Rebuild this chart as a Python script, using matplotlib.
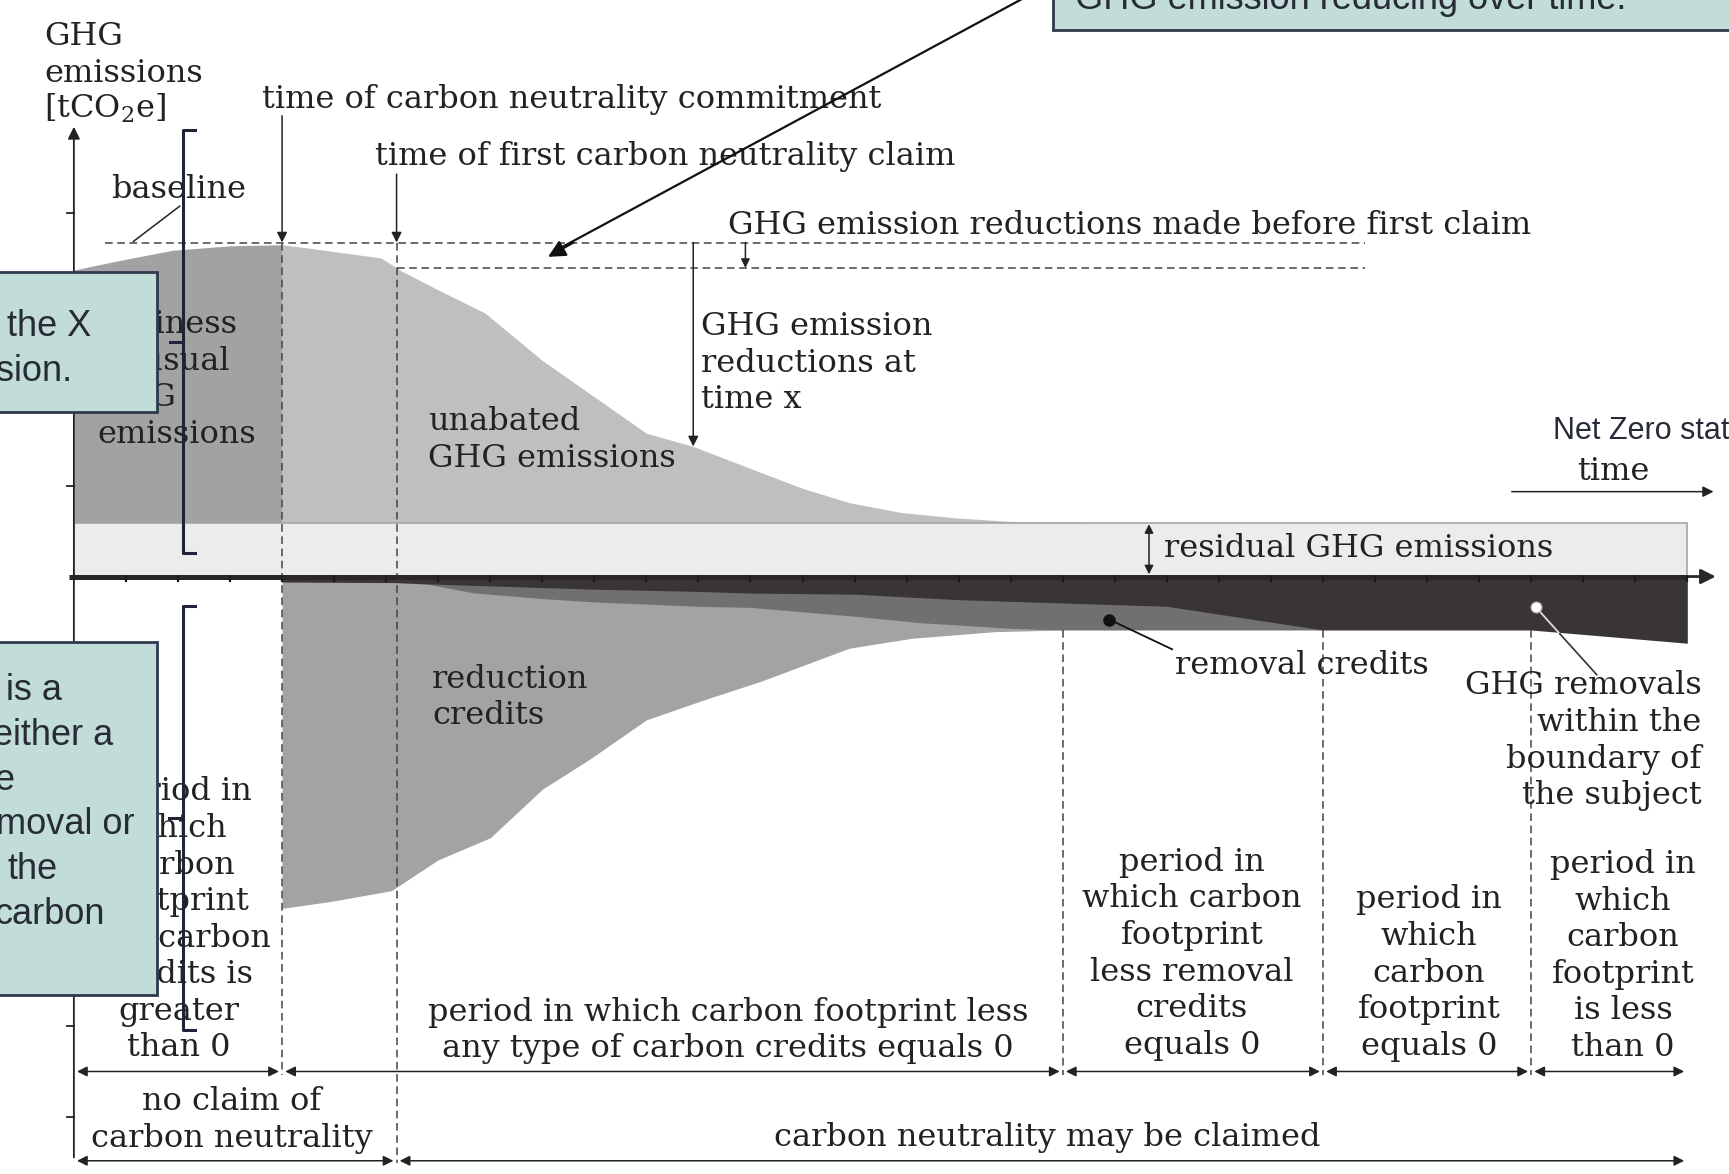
import numpy as np
import matplotlib.pyplot as plt
from matplotlib.patches import Rectangle

plt.rcParams['mathtext.fontset'] = 'dejavuserif'

# time in tick steps, emissions in relative units (0 = time axis)
tick_times = np.arange(1, 32)
t_commit = 4.0
t_claim = 6.2
period_bounds = [0, 4, 19, 24, 28, 31]
claim_bounds = [0, 6.2, 31]
baseline_level = 30.3
claim_level = 28.0
residual_level = 4.9
t_end = 31

bau_t = [0, 0.8, 1.9, 3.0, 4.0]
bau_e = [27.8, 28.6, 29.6, 30.0, 30.1]

unabated_t = [4.0, 4.5, 5.9, 6.2, 6.3, 7.0, 7.9, 9.0, 10.0, 11.0, 11.9, 13.0, 14.0, 14.9, 15.9, 17.0, 18.0, 19.5]
unabated_e = [30.1, 29.8, 28.9, 28.0, 27.7, 26.0, 23.9, 19.6, 16.3, 13.0, 11.8, 9.8, 8.0, 6.7, 5.8, 5.3, 5.0, 4.9]

reduction_t = [4.0, 4.9, 6.1, 7.0, 8.0, 9.0, 9.9, 11.0, 12.1, 13.2, 14.9, 16.1, 17.7, 19.0]
reduction_e = [-30.1, -29.5, -28.5, -25.7, -23.7, -19.3, -16.6, -13.0, -11.2, -9.5, -6.5, -5.6, -5.0, -4.85]

removal_cr_t = [6.2, 6.8, 7.7, 8.0, 9.0, 10.0, 12.0, 13.0, 15.0, 16.3, 17.0, 18.0, 19.0, 24.0]
removal_cr_e = [-0.55, -0.7, -1.5, -1.6, -2.0, -2.3, -2.7, -2.8, -3.6, -4.2, -4.4, -4.7, -4.85, -4.85]

removal_in_t = [4.0, 6.2, 7.0, 8.0, 9.0, 10.0, 12.0, 13.0, 15.0, 17.0, 19.0, 21.0, 24.0, 28.0, 31.0]
removal_in_e = [-0.5, -0.55, -0.7, -0.85, -1.0, -1.15, -1.35, -1.5, -1.6, -2.1, -2.4, -2.7, -4.85, -4.85, -6.05]

y_ticks = [33.0, 8.2, -16.3, -40.8, -49.0]


def px(x):  # reference pixel -> time units (layout only)
    return (x - 67) / 47.2


def py(y):  # reference pixel -> emission units (layout only)
    return (523 - y) / 10.0


SERIF = 'DejaVu Serif'
SANS = 'Liberation Sans'
FS = 23
TXT = '#222222'

fig = plt.figure(figsize=(17.29, 11.74), dpi=100)
ax = fig.add_axes([0, 0, 1, 1])
ax.set_xlim(px(0), px(1568))
ax.set_ylim(py(1065), py(0))
ax.axis('off')

# areas
ax.fill_between(bau_t, residual_level, bau_e, color='#a2a2a2', lw=0, zorder=1)
ax.fill_between(unabated_t, residual_level, unabated_e, color='#bfbfbf', lw=0, zorder=1)
ax.add_patch(Rectangle((0, 0), t_end, residual_level, facecolor='#ececec',
                       edgecolor='#a5a5a5', lw=1.2, zorder=2))
ax.fill_between(reduction_t, 0, reduction_e, color='#a3a3a3', lw=0, zorder=1)
ax.fill_between(removal_cr_t, 0, removal_cr_e, color='#707070', lw=0, zorder=2)
ax.fill_between(removal_in_t, 0, removal_in_e, color='#3a3535', lw=0, zorder=3)

# dashed guide lines
dash = dict(color='#444444', lw=1.1, ls=(0, (5, 3)), zorder=4)
ax.plot([px(95), px(1238)], [baseline_level, baseline_level], **dash)
ax.plot([t_claim, px(1238)], [claim_level, claim_level], **dash)
ax.plot([t_commit, t_commit], [baseline_level, py(975)], **dash)
ax.plot([t_claim, t_claim], [baseline_level, py(1055)], **dash)
for t in period_bounds[2:5]:
    ax.plot([t, t], [-4.85, py(975)], **dash)

# axes
ax.plot([-0.1, t_end], [0, 0], color='#2b2727', lw=3.6, solid_capstyle='butt', zorder=5)
ax.annotate('', xy=(px(1556), 0), xytext=(t_end, 0),
            arrowprops=dict(arrowstyle='-|>', color='#2b2727', lw=2, mutation_scale=22,
                            shrinkA=0, shrinkB=0), zorder=5)
for t in tick_times:
    ax.plot([t, t], [0, -0.45], color='#1a1a1a', lw=1.6, zorder=5)
ax.annotate('', xy=(0, py(115)), xytext=(0, py(1050)),
            arrowprops=dict(arrowstyle='-|>', color='#222222', lw=1.3, mutation_scale=18,
                            shrinkA=0, shrinkB=0), zorder=5)
for e in y_ticks:
    ax.plot([-0.13, 0], [e, e], color='#222222', lw=1.3, zorder=5)


def arrow(x0, y0, x1, y1, style='-|>', lw=1.1, ms=15, color='#222222', z=6):
    ax.annotate('', xy=(x1, y1), xytext=(x0, y0),
                arrowprops=dict(arrowstyle=style, color=color, lw=lw, mutation_scale=ms,
                                shrinkA=0, shrinkB=0), zorder=z)


arrow(t_commit, py(105), t_commit, baseline_level)
arrow(t_claim, py(158), t_claim, baseline_level)
arrow(px(676), baseline_level, px(676), claim_level, ms=13)
arrow(unabated_t[10], baseline_level, unabated_t[10], unabated_e[10])
arrow(px(1042), residual_level - 0.15, px(1042), 0.2, style='<|-|>', ms=13)
arrow(px(1371), py(446), px(1554), py(446), ms=16)
ax.plot([px(121), px(163)], [py(219), py(187)], color='#222222', lw=1.1, zorder=6)

# period arrows
for a, b in zip(period_bounds[:-1], period_bounds[1:]):
    arrow(a + 0.06, py(972), b - 0.06, py(972), style='<|-|>', ms=15)
for a, b in zip(claim_bounds[:-1], claim_bounds[1:]):
    arrow(a + 0.06, py(1053), b - 0.06, py(1053), style='<|-|>', ms=15)

# markers
ax.plot([px(1006), px(1063)], [py(562), py(589)], color='#111111', lw=1.3, zorder=7)
ax.plot(px(1006), py(562), 'o', ms=8, color='#111111', zorder=8)
ax.plot([px(1393), px(1414.6)], [py(551), py(575)], color='#dddddd', lw=1.3, zorder=7)
ax.plot([px(1414.6), px(1448)], [py(575), py(612)], color='#333333', lw=1.2, zorder=7)
ax.plot(px(1393), py(551), 'o', ms=8, color='white', mec='#999999', mew=0.8, zorder=8)


def lines(x, base, items, ha='left', step=33.2, size=FS, family=SERIF, color=TXT, z=7):
    for i, s in enumerate(items):
        ax.text(px(x), py(base + i * step), s, ha=ha, va='baseline', fontsize=size,
                family=family, color=color, zorder=z)


lines(40, 41, ['GHG', 'emissions', r'[tCO$_2$e]'])
lines(238, 98, ['time of carbon neutrality commitment'])
lines(340, 150, ['time of first carbon neutrality claim'])
lines(101, 180, ['baseline'])
lines(660, 212, ['GHG emission reductions made before first claim'])
lines(636, 304, ['GHG emission', 'reductions at', 'time x'])
lines(388, 390, ['unabated', 'GHG emissions'])
lines(88, 302, ['business', 'as usual', 'GHG', 'emissions'])
lines(1056, 505, ['residual GHG emissions'])
lines(1463, 435, ['time'], ha='center')
lines(392, 624, ['reduction', 'credits'])
lines(1066, 611, ['removal credits'])
lines(1543, 630, ['GHG removals', 'within the', 'boundary of', 'the subject'], ha='right')
lines(162, 726, ['period in', 'which', 'carbon', 'footprint', 'less carbon', 'credits is',
                 'greater', 'than 0'], ha='center')
lines(660, 926, ['period in which carbon footprint less',
                 'any type of carbon credits equals 0'], ha='center')
lines(1081, 790, ['period in', 'which carbon', 'footprint', 'less removal', 'credits',
                  'equals 0'], ha='center')
lines(1296, 824, ['period in', 'which', 'carbon', 'footprint', 'equals 0'], ha='center')
lines(1472, 792, ['period in', 'which', 'carbon', 'footprint', 'is less', 'than 0'], ha='center')
lines(210, 1007, ['no claim of', 'carbon neutrality'], ha='center')
lines(950, 1040, ['carbon neutrality may be claimed'], ha='center')
lines(1408, 398, ['Net Zero state'], size=22, family=SANS, color='#262b36')

# callout boxes
box = dict(facecolor='#c2ddd7', edgecolor='#2f3a4f', lw=2, zorder=10)
ax.add_patch(Rectangle((px(-10), py(374)), px(142) - px(-10), py(247) - py(374), **box))
ax.add_patch(Rectangle((px(-10), py(903)), px(142) - px(-10), py(582) - py(903), **box))
ax.add_patch(Rectangle((px(955), py(27)), px(1600) - px(955), py(-40) - py(27), **box))
ax.plot([px(940), px(510)], [py(-8), py(224)], color='#111111', lw=1.6, zorder=9)
arrow(px(520), py(220), px(497), py(233), lw=1.6, ms=26, color='#111111', z=9)

call = dict(family=SANS, size=26, color='#262b36', z=11, step=40.6)
lines(975, 8, ['GHG emission reducing over time.'], **call)
lines(6, 305, ['the X'], **call)
lines(-4, 345.6, ['sion.'], **call)
lines(5, 635, ['is a'], **call)
lines(-6, 675.6, ['either a'], **call)
lines(-5, 716.2, ['e'], **call)
lines(-4, 756.8, ['moval or'], **call)
lines(7, 797.4, ['the'], **call)
lines(-5, 838, ['carbon'], **call)

# brackets
br = dict(color='#1e2636', lw=2.2, zorder=12, solid_joinstyle='round')
ax.plot([px(177), px(166), px(166), px(177)], [py(118), py(118), py(502), py(502)], **br)
ax.plot([px(154), px(166)], [py(310), py(310)], **br)
ax.plot([px(177), px(166), px(166), px(177)], [py(550), py(550), py(934), py(934)], **br)
ax.plot([px(153), px(166)], [py(742), py(742)], **br)

fig.savefig('out.png', dpi=100)
